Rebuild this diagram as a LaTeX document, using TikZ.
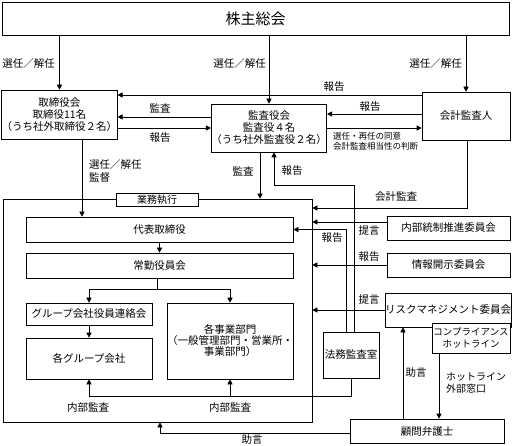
\documentclass[tikz,border=0pt]{standalone}
\usepackage{fontspec}
\setmainfont{Noto Sans CJK JP}
\usetikzlibrary{arrows.meta}

\tikzset{
  box/.style={rectangle, draw, line width=0.6pt, fill=white, inner sep=0pt, align=center, font=\fontsize{10.5}{12}\selectfont},
  arr/.style={line width=0.6pt, -{Triangle[length=5pt,width=5pt]}},
  lbl/.style={inner sep=0pt, font=\fontsize{10.5}{12}\selectfont},
  note/.style={inner sep=0pt, anchor=north west, align=left},
}

\begin{document}
\begin{tikzpicture}[x=1pt, y=-1pt]
		\useasboundingbox (0,0) rectangle (514,446);
		\node(SH) at (255.5,18.5)[box, minimum width=507, minimum height=33, font=\fontsize{15}{18}\selectfont]{株主総会};
		\node(BD) at (59.5,114.5)[box, minimum width=113, minimum height=49]{取締役会\\取締役11名\\（うち社外取締役２名）};
		\node(AU) at (269,128)[box, minimum width=114, minimum height=48]{監査役会\\監査役４名\\（うち社外監査役２名）};
		\node(AC) at (466,116)[box, minimum width=88, minimum height=48]{会計監査人};
		\node(EX) at (157.5,310.5)[rectangle, draw, line width=0.6pt, minimum width=309, minimum height=223]{};
		\node(EXL) at (157,199.5)[box, minimum width=82, minimum height=13, font=\fontsize{10}{12}\selectfont]{業務執行};
		\node(RP) at (159.5,229.5)[box, minimum width=267, minimum height=25]{代表取締役};
		\node(JK) at (159.5,265.5)[box, minimum width=267, minimum height=25]{常勤役員会};
		\node(GC) at (89,314)[box, minimum width=126, minimum height=22]{グループ会社役員連絡会};
		\node(GR) at (89,358.5)[box, minimum width=126, minimum height=41]{各グループ会社};
		\node(BZ) at (230,341)[box, minimum width=124, minimum height=76, font=\fontsize{10.5}{11}\selectfont]{各事業部門\\（一般管理部門・営業所・\\事業部門）};
		\node(LG) at (351,355)[box, minimum width=56, minimum height=46]{法務監査室};
		\node(IC) at (448.5,228)[box, minimum width=123, minimum height=24]{内部統制推進委員会};
		\node(DC) at (448.5,265)[box, minimum width=123, minimum height=24]{情報開示委員会};
		\node(RK) at (448,310)[box, minimum width=124, minimum height=34]{リスクマネジメント委員会};
		\node(HT) at (471,338)[box, minimum width=78, minimum height=30, font=\fontsize{9.5}{12}\selectfont]{コンプライアンス\\ホットライン};
		\node(LW) at (427,431)[box, minimum width=154, minimum height=24]{顧問弁護士};
		% 選任／解任
		\draw[arr] (BD.north |- SH.south) -- (BD.north);
		\node(T1) at (55,64)[lbl, anchor=east]{選任／解任};
		\draw[arr] (AU.north |- SH.south) -- (AU.north);
		\node(T2) at (266,64)[lbl, anchor=east]{選任／解任};
		\draw[arr] (AC.north |- SH.south) -- (AC.north);
		\node(T3) at (462,64)[lbl, anchor=east]{選任／解任};
		% 取締役会・監査役会・会計監査人
		\draw[arr] (AC.west |- 0,95) -- (BD.east |- 0,95);
		\node(T4) at (334,87)[lbl]{報告};
		\draw[arr] (AU.west |- 0,117) -- (BD.east |- 0,117);
		\node(T5) at (160,108)[lbl]{監査};
		\draw[arr] (BD.east |- 0,128) -- (AU.west |- 0,128);
		\node(T6) at (160,138)[lbl]{報告};
		\draw[arr] (AC.west |- 0,114) -- (AU.east |- 0,114);
		\node(T7) at (370,107)[lbl]{報告};
		\draw[arr] (AU.east |- 0,128) -- (AC.west |- 0,128);
		\node(T8) at (333,132)[note, font=\fontsize{8.5}{10}\selectfont]{選任・再任の同意\\会計監査相当性の判断};
		\draw[arr] (82,0 |- BD.south) -- (82,0 |- RP.north);
		\node(T9) at (89,159)[note, font=\fontsize{10.5}{13}\selectfont]{選任／解任\\監督};
		\draw[arr] (260,0 |- AU.south) -- (260,0 |- EX.north);
		\node(T10) at (243,171)[lbl]{監査};
		% 法務監査室
		\draw[arr] (354,0 |- LG.north) |- (274,185) -- (274,0 |- AU.south);
		\node(T11) at (292,171)[lbl]{報告};
		\draw[arr] (346,0 |- LG.north) |- (RP.east);
		\node(T12) at (332,238)[lbl]{報告};
		% 右側から業務執行へ
		\draw[arr] (467,0 |- AC.south) |- (EX.east |- 0,208);
		\node(T13) at (396,197)[lbl]{会計監査};
		\draw[arr] (IC.west |- 0,222) -- (EX.east |- 0,222);
		\node(T14) at (369,231)[lbl]{提言};
		\draw[arr] (DC.west) -- (EX.east |- DC.west);
		\node(T15) at (369,257)[lbl]{報告};
		\draw[arr] (RK.west) -- (EX.east |- RK.west);
		\node(T16) at (369,300)[lbl]{提言};
		% 業務執行の中
		\draw[arr] (RP.south) -- (RP.south |- JK.north);
		\draw (157,0 |- JK.south) -- (157,289) coordinate (J1);
		\draw[arr] (J1) -| (GC.north);
		\draw[arr] (J1) -| (BZ.north);
		\draw[arr] (GC.south) -- (GR.north);
		% 内部監査
		\draw[arr] (LG.south) |- (GR.south |- 0,396) -- (GR.south);
		\draw[arr] (BZ.south |- 0,396) -- (BZ.south);
		\node(T17) at (88,408)[lbl]{内部監査};
		\node(T18) at (230,408)[lbl]{内部監査};
		% 顧問弁護士
		\draw[arr] (LW.west |- 0,433) -| (160,0 |- EX.south);
		\node(T19) at (252,440)[lbl]{助言};
		\draw[arr] (403,0 |- LW.north) -- (403,0 |- RK.south);
		\node(T20) at (416,373)[lbl]{助言};
		\draw[arr] (439,0 |- HT.south) -- (439,0 |- LW.north);
		\node(T21) at (446,372)[note, font=\fontsize{10}{12}\selectfont]{ホットライン\\外部窓口};
		\end{tikzpicture}
\end{document}
